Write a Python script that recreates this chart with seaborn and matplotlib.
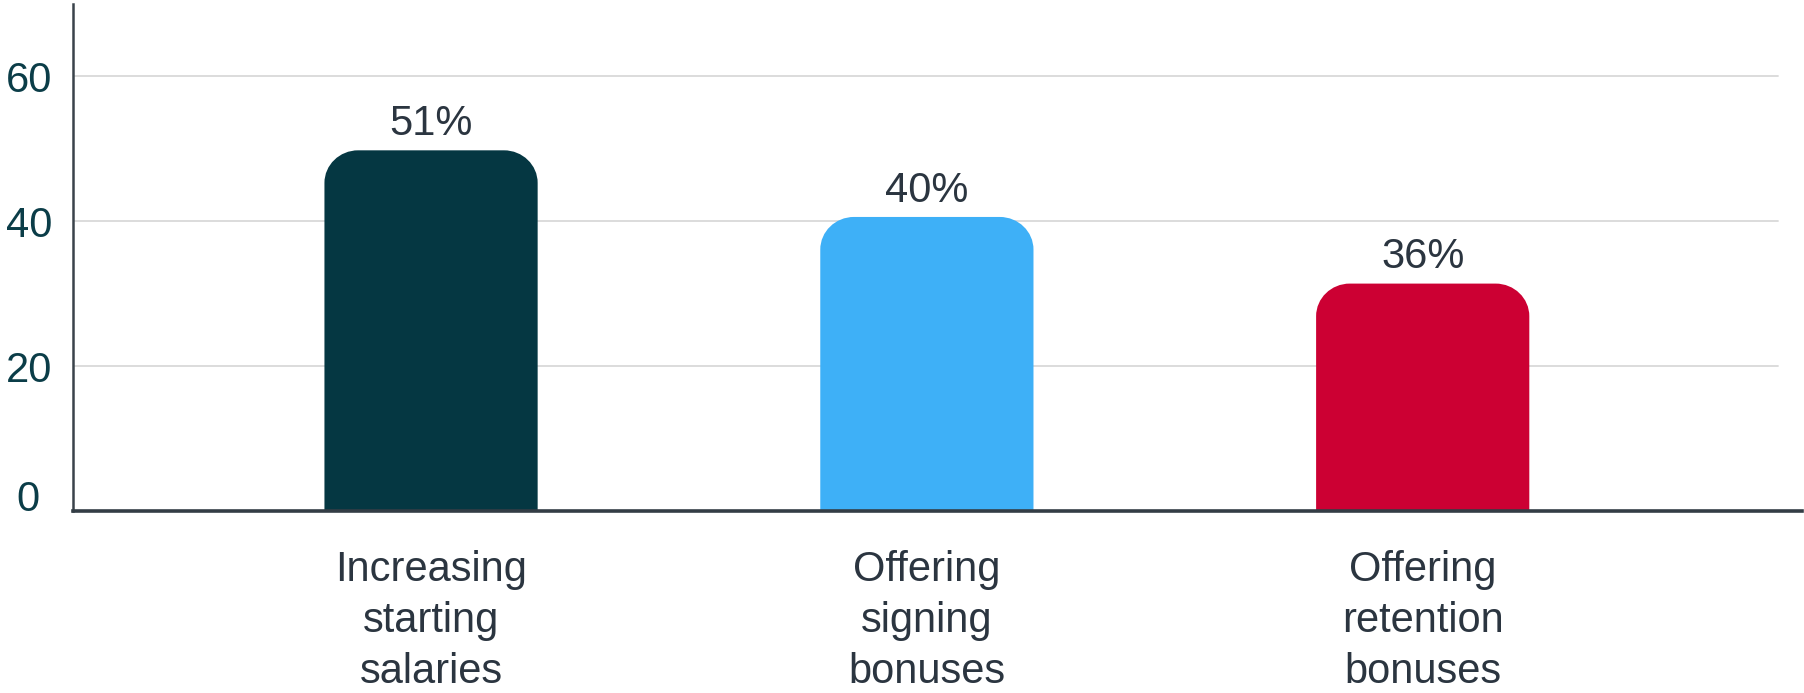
import matplotlib
matplotlib.use("Agg")
import matplotlib.pyplot as plt
import matplotlib.transforms as mtransforms
from matplotlib.path import Path
from matplotlib.patches import PathPatch
import seaborn as sns
import pandas as pd

# --- data ---
categories = ["Increasing\nstarting\nsalaries", "Offering\nsigning\nbonuses", "Offering\nretention\nbonuses"]
bar_heights = [49.8, 40.6, 31.4]
value_labels = ["51%", "40%", "36%"]
bar_colors = ["#053742", "#3EB0F7", "#CC0033"]
y_ticks = [0, 20, 40, 60]

sns.set_style("white")
plt.rcParams["font.family"] = ["Liberation Sans", "DejaVu Sans"]

df = pd.DataFrame({"category": categories, "value": bar_heights})

fig = plt.figure(figsize=(18.04, 6.93), dpi=100)
ax = fig.add_axes([0.0405, 0.2626, 0.9584, 0.7316])

sns.barplot(data=df, x="category", y="value", hue="category", palette=bar_colors,
            width=0.43, legend=False, ax=ax, saturation=1)

ax.set_ylim(0, 70)
ax.set_xlim(-0.722, 2.765)


def rounded_top(x0, w, h, rx, ry):
    # bar outline with the two top corners rounded (cubic bezier quarter arcs)
    k = 0.5523
    x1 = x0 + w
    verts = [
        (x0, 0), (x0, h - ry),
        (x0, h - ry + k * ry), (x0 + rx - k * rx, h), (x0 + rx, h),
        (x1 - rx, h),
        (x1 - rx + k * rx, h), (x1, h - ry + k * ry), (x1, h - ry),
        (x1, 0), (x0, 0),
    ]
    codes = [Path.MOVETO, Path.LINETO,
             Path.CURVE4, Path.CURVE4, Path.CURVE4,
             Path.LINETO,
             Path.CURVE4, Path.CURVE4, Path.CURVE4,
             Path.LINETO, Path.CLOSEPOLY]
    return Path(verts, codes)


# swap the square bars for ones with rounded tops
rx, ry = 0.068, 4.5
for patch in list(ax.patches):
    x0, w, h = patch.get_x(), patch.get_width(), patch.get_height()
    col = patch.get_facecolor()
    patch.set_visible(False)
    ax.add_patch(PathPatch(rounded_top(x0, w, h, rx, ry), facecolor=col,
                           edgecolor="none", zorder=3))

for i, (h, lab) in enumerate(zip(bar_heights, value_labels)):
    ax.annotate(lab, (i, h), xytext=(0, 11), textcoords="offset points",
                ha="center", va="baseline", fontsize=30, color="#2B3540")

ax.set_yticks(y_ticks)
ax.set_yticklabels([str(t) for t in y_ticks])
ax.tick_params(axis="y", length=0, pad=15, labelsize=30, labelcolor="#0B3D48")
ax.tick_params(axis="x", length=0, pad=28, labelsize=30, labelcolor="#2B3540")
for t in ax.get_xticklabels():
    t.set_linespacing(1.35)

# the "0" label sits higher and further left in the reference
zero = ax.get_yticklabels()[0]
zero.set_transform(zero.get_transform() +
                   mtransforms.ScaledTranslation(-0.13, 0.155, fig.dpi_scale_trans))

# gridlines stop a little short of the right edge
for t in y_ticks[1:]:
    ax.axhline(t, xmin=0, xmax=0.986, color="#D9D9D9", linewidth=1.3, zorder=1)
ax.set_xlabel("")
ax.set_ylabel("")

sns.despine(ax=ax, top=True, right=True)
ax.spines["left"].set_color("#3A434B")
ax.spines["left"].set_linewidth(1.8)
ax.spines["bottom"].set_color("#333D45")
ax.spines["bottom"].set_linewidth(2.6)
ax.spines["bottom"].set_zorder(4)

fig.savefig("out.png", dpi=100)
